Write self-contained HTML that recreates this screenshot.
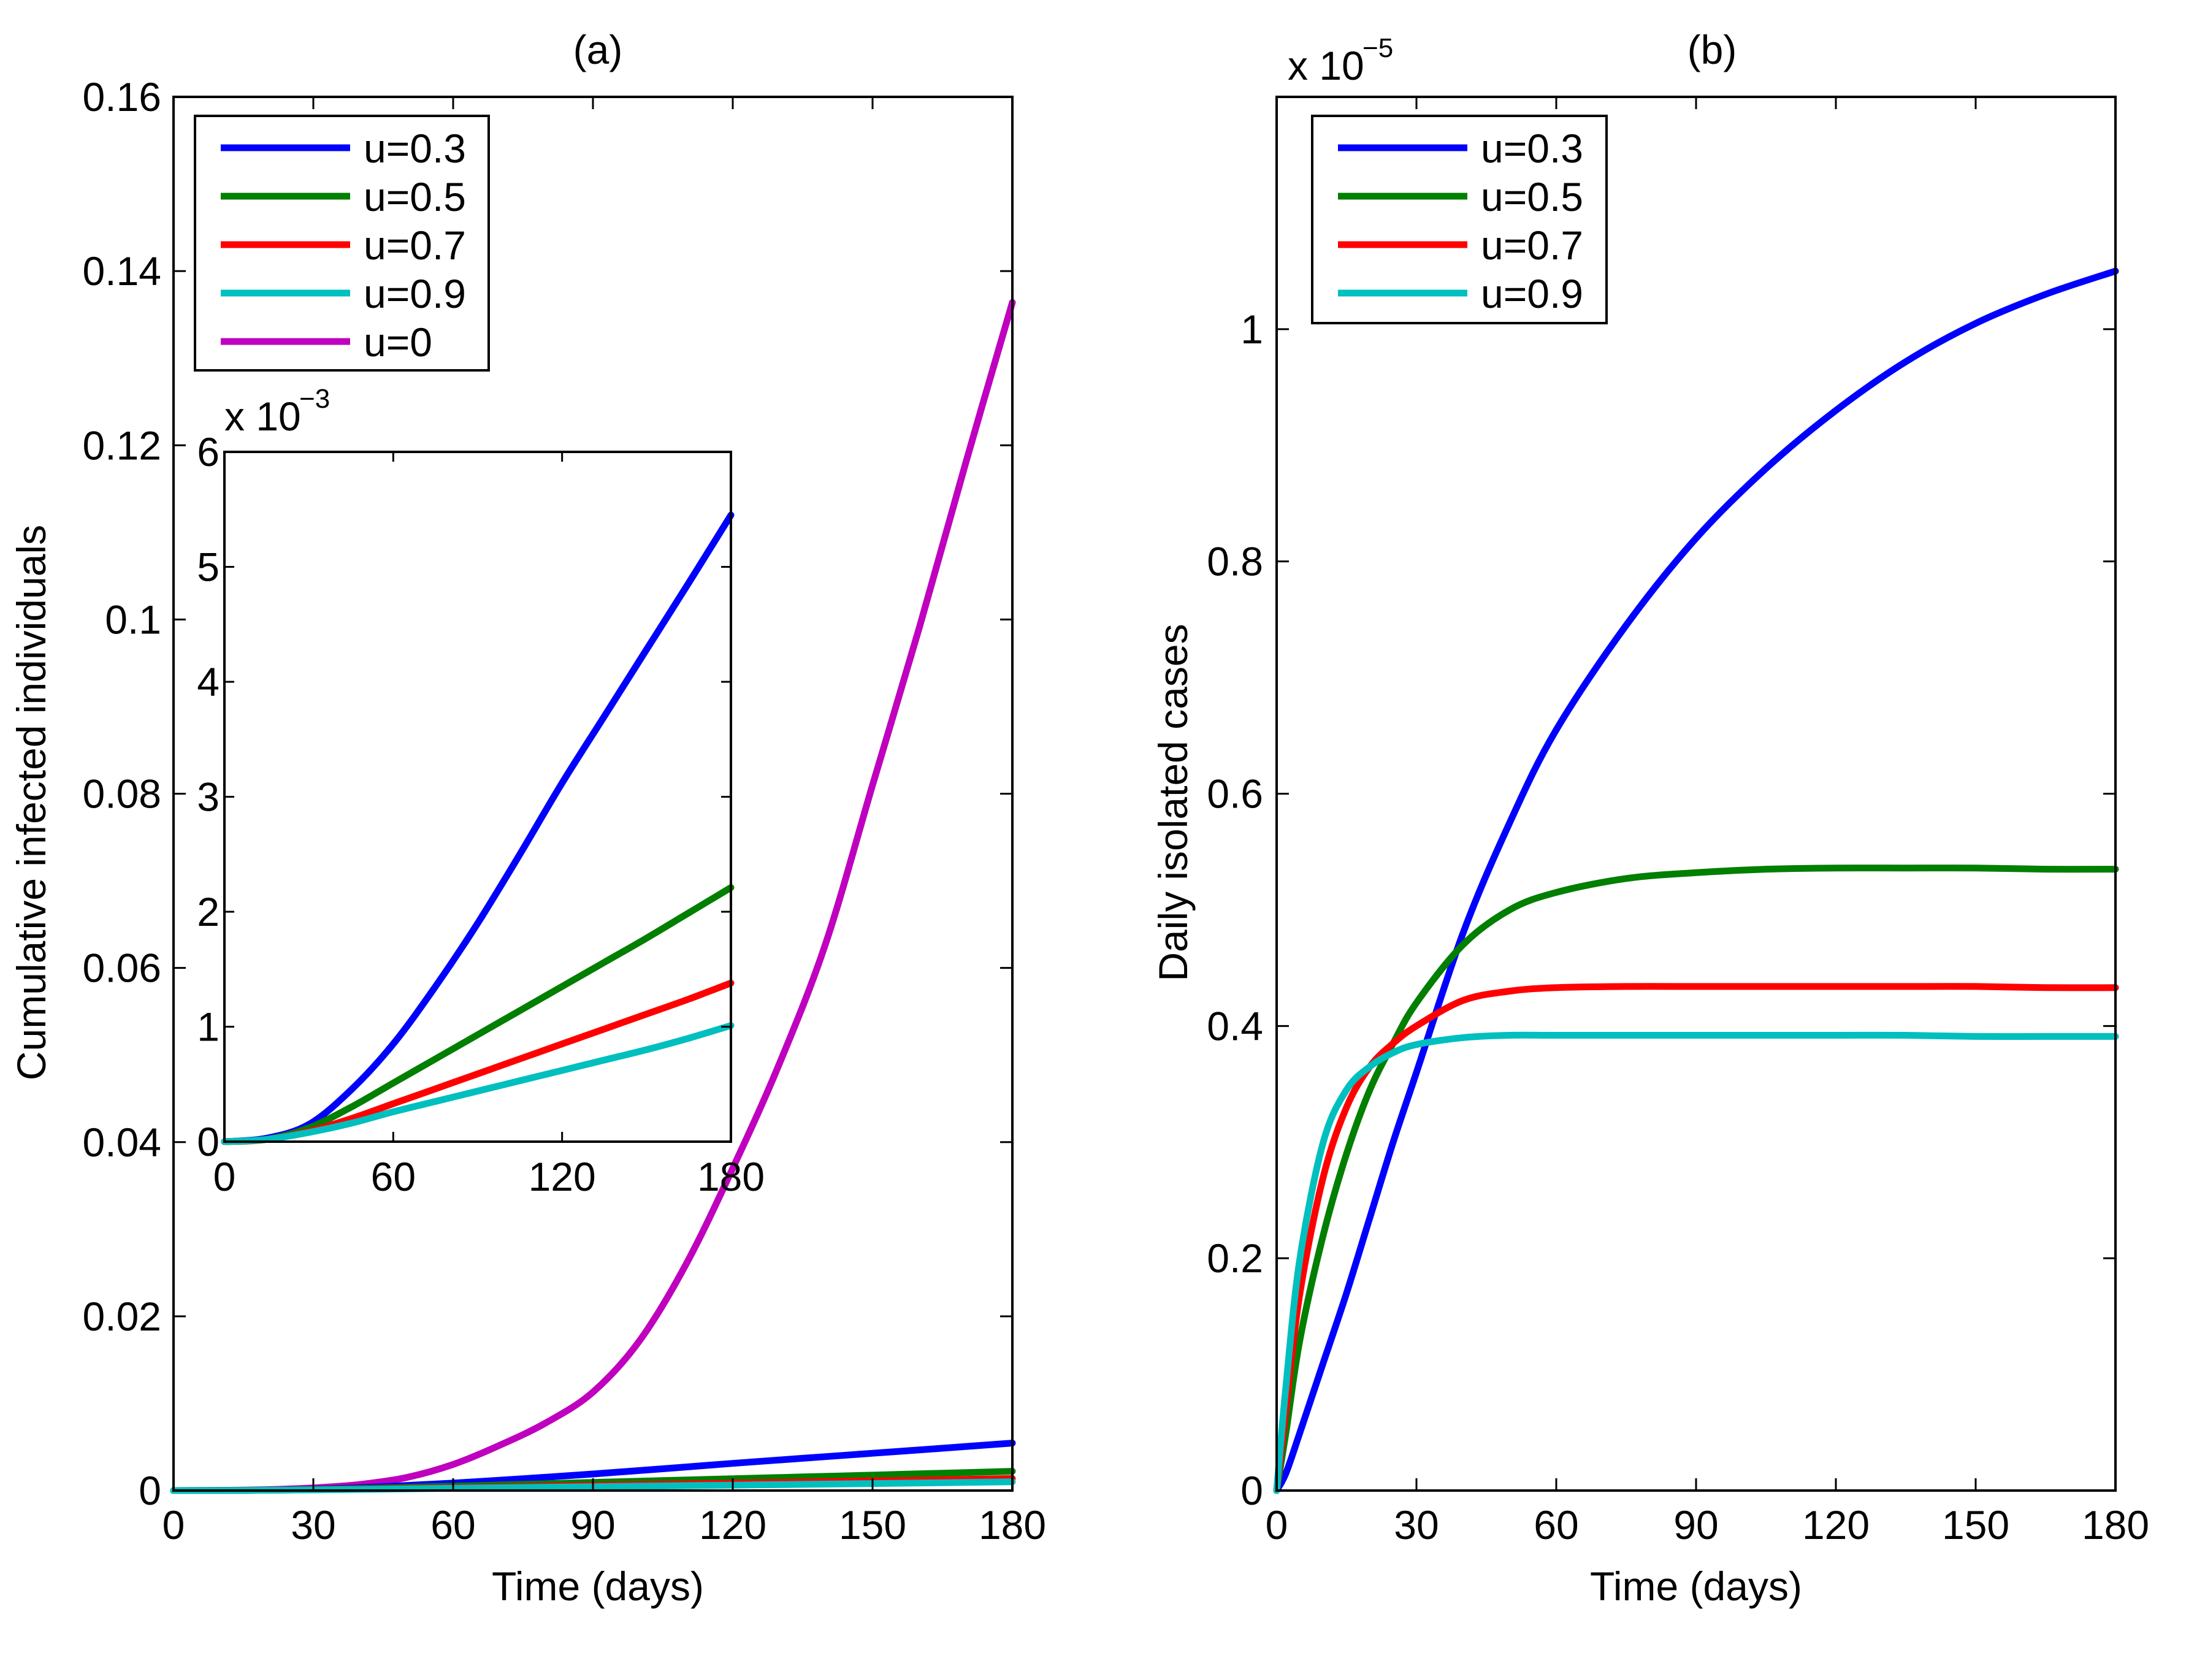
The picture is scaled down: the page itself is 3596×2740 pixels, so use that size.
<!DOCTYPE html>
<html><head><meta charset="utf-8"><style>
html,body{margin:0;padding:0;background:#fff}
svg{display:block;font-family:"Liberation Sans",Arial,sans-serif}
</style></head><body>
<svg id="fig" width="3596" height="2740" viewBox="0 0 3596 2740" xmlns="http://www.w3.org/2000/svg">
<rect width="3596" height="2740" fill="#fff"/>
</svg>
<script>
// ---- data: panel (a) ----
const tU0 = [0,10,20,30,40,50,60,70,80,90,100,110,120,130,140,150,160,170,180];
const cumU0 = [0,0.00002,0.0001,0.0003,0.0007,0.0015,0.003,0.0052,0.0078,0.0113,0.0172,0.026,0.037,0.049,0.0629,0.081,0.099,0.118,0.1364];
const tA = [0,15,30,45,60,75,90,105,120,135,150,165,180];
const cumU03 = [0,0.03,0.15,0.45,0.85,1.35,1.9,2.5,3.12,3.7,4.28,4.86,5.45];   // x1e-3
const cumU05 = [0,0.02,0.12,0.3,0.51,0.72,0.93,1.14,1.35,1.56,1.77,1.99,2.21];
const cumU07 = [0,0.02,0.09,0.2,0.33,0.46,0.59,0.72,0.85,0.98,1.11,1.24,1.38];
const cumU09 = [0,0.02,0.08,0.16,0.26,0.35,0.44,0.53,0.62,0.71,0.8,0.9,1.01];
const aYTicks = [0,0.02,0.04,0.06,0.08,0.1,0.12,0.14,0.16];
const aYLabels = ["0","0.02","0.04","0.06","0.08","0.1","0.12","0.14","0.16"];
const xTicks = [0,30,60,90,120,150,180];
const insetYTicks = [0,1,2,3,4,5,6];
const insetXTicks = [0,60,120,180];
// ---- data: panel (b) ----
const tB = [0,2,5,10,15,20,25,30,40,50,60,75,90,105,120,135,150,165,180];
const isoU03 = [0,0.015,0.05,0.11,0.17,0.235,0.30,0.36,0.48,0.575,0.655,0.745,0.82,0.88,0.93,0.972,1.005,1.03,1.05];
const isoU05 = [0,0.05,0.13,0.22,0.29,0.345,0.385,0.42,0.47,0.50,0.515,0.527,0.532,0.535,0.536,0.536,0.536,0.535,0.535];
const isoU07 = [0,0.07,0.17,0.27,0.33,0.365,0.385,0.40,0.422,0.43,0.433,0.434,0.434,0.434,0.434,0.434,0.434,0.433,0.433];
const isoU09 = [0,0.09,0.2,0.3,0.345,0.365,0.377,0.384,0.39,0.392,0.392,0.392,0.392,0.392,0.392,0.392,0.391,0.391,0.391];
const bYTicks = [0,0.2,0.4,0.6,0.8,1];
const bYLabels = ["0","0.2","0.4","0.6","0.8","1"];

const NS="http://www.w3.org/2000/svg";
const svg=document.getElementById('fig');
function mk(tag,attrs,parent){const e=document.createElementNS(NS,tag);for(const k in attrs)e.setAttribute(k,attrs[k]);(parent||svg).appendChild(e);return e;}
function txt(s,x,y,size,anchor,parent){const e=mk('text',{x:x,y:y,'font-size':size,'text-anchor':anchor||'middle',fill:'#000'},parent);e.textContent=s;return e;}
function scale(d0,d1,r0,r1){return v=>r0+(v-d0)/(d1-d0)*(r1-r0);}

function axesBox(g,L,T,R,B,sw){mk('rect',{x:L,y:T,width:R-L,height:B-T,fill:'none',stroke:'#000','stroke-width':sw},g);}
function drawLine(g,xs,ys,X,Y,color,name){
  const P=xs.map((x,i)=>[X(x),Y(ys[i])]);
  let d='M'+P[0][0].toFixed(1)+','+P[0][1].toFixed(1);
  for(let i=0;i<P.length-1;i++){
    const p0=P[Math.max(0,i-1)],p1=P[i],p2=P[i+1],p3=P[Math.min(P.length-1,i+2)];
    const c1=[p1[0]+(p2[0]-p0[0])/6,p1[1]+(p2[1]-p0[1])/6];
    const c2=[p2[0]-(p3[0]-p1[0])/6,p2[1]-(p3[1]-p1[1])/6];
    d+='C'+c1[0].toFixed(1)+','+c1[1].toFixed(1)+' '+c2[0].toFixed(1)+','+c2[1].toFixed(1)+' '+p2[0].toFixed(1)+','+p2[1].toFixed(1);
  }
  const p=mk('path',{d:d,fill:'none',stroke:color,'stroke-width':11,'stroke-linejoin':'round','stroke-linecap':'round'},g);
  
  
}
const COL={b:'#0000ff',g:'#007f00',r:'#ff0000',c:'#00bfbf',m:'#bf00bf'};
const FS=66;

// ===== Panel (a) =====
const gA=mk('g',{});


const aL=283,aR=1651,aT=158,aB=2431;
const aX=scale(0,180,aL,aR), aY=scale(0,0.16,aB,aT);
drawLine(gA,tU0,cumU0,aX,aY,COL.m,'line-u0');
drawLine(gA,tA,cumU03.map(v=>v*1e-3),aX,aY,COL.b,'line-a-u03');
drawLine(gA,tA,cumU05.map(v=>v*1e-3),aX,aY,COL.g,'line-a-u05');
drawLine(gA,tA,cumU07.map(v=>v*1e-3),aX,aY,COL.r,'line-a-u07');
drawLine(gA,tA,cumU09.map(v=>v*1e-3),aX,aY,COL.c,'line-a-u09');
axesBox(gA,aL,aT,aR,aB,4);
aYTicks.forEach((v,i)=>{const y=aY(v);
  mk('line',{x1:aL,y1:y,x2:aL+20,y2:y,stroke:'#000','stroke-width':3},gA);
  mk('line',{x1:aR,y1:y,x2:aR-20,y2:y,stroke:'#000','stroke-width':3},gA);
  const t=txt(aYLabels[i],aL-20,y+23,FS,'end',gA);
  
  });
xTicks.forEach(v=>{const x=aX(v);
  mk('line',{x1:x,y1:aB,x2:x,y2:aB-20,stroke:'#000','stroke-width':3},gA);
  mk('line',{x1:x,y1:aT,x2:x,y2:aT+20,stroke:'#000','stroke-width':3},gA);
  const t=txt(String(v),x,2510,FS,'middle',gA);
  
  });
const aTitle=txt('(a)',975,104,FS,'middle',gA);


const aXT=txt('Time (days)',975,2610,FS,'middle',gA);


const aYT=txt('Cumulative infected individuals',0,0,FS,'middle',gA);
aYT.setAttribute('transform','translate(74,1309) rotate(-90)');



// inset
const gI=mk('g',{});


const iL=366,iR=1192,iT=737,iB=1862;
const iX=scale(0,180,iL,iR), iY=scale(0,6,iB,iT);
mk('rect',{x:iL,y:iT,width:iR-iL,height:iB-iT,fill:'#fff'},gI);
drawLine(gI,tA,cumU03,iX,iY,COL.b,'inset-line-u03');
drawLine(gI,tA,cumU05,iX,iY,COL.g,'inset-line-u05');
drawLine(gI,tA,cumU07,iX,iY,COL.r,'inset-line-u07');
drawLine(gI,tA,cumU09,iX,iY,COL.c,'inset-line-u09');
axesBox(gI,iL,iT,iR,iB,4);
insetYTicks.forEach(v=>{const y=iY(v);
  mk('line',{x1:iL,y1:y,x2:iL+16,y2:y,stroke:'#000','stroke-width':3},gI);
  mk('line',{x1:iR,y1:y,x2:iR-16,y2:y,stroke:'#000','stroke-width':3},gI);
  const t=txt(String(v),iL-8,y+23,FS,'end',gI);
  
  });
insetXTicks.forEach(v=>{const x=iX(v);
  mk('line',{x1:x,y1:iB,x2:x,y2:iB-16,stroke:'#000','stroke-width':3},gI);
  mk('line',{x1:x,y1:iT,x2:x,y2:iT+16,stroke:'#000','stroke-width':3},gI);
  const t=txt(String(v),x,1942,FS,'middle',gI);
  
  });
const im=txt('x 10',366,702,FS,'start',gI);


txt('\u22123',488,665,44,'start',gI);

// legends
function legend(g,L,T,R,B,items,name){
  const lg=mk('g',{},g);
  
  
  mk('rect',{x:L,y:T,width:R-L,height:B-T,fill:'#fff',stroke:'#000','stroke-width':4},lg);
  items.forEach((it,i)=>{const y=T+52+i*79;
    const ln=mk('line',{x1:L+42,y1:y,x2:L+253,y2:y,stroke:it[1],'stroke-width':11},lg);
    
    
    const t=txt(it[0],L+275,y+24,FS,'start',lg);
    
    });
}
legend(gA,318,189,797,604,[['u=0.3',COL.b],['u=0.5',COL.g],['u=0.7',COL.r],['u=0.9',COL.c],['u=0',COL.m]],'legend-a');

// ===== Panel (b) =====
const gB=mk('g',{});


const bL=2082,bR=3450,bT=158,bB=2431;
const bX=scale(0,180,bL,bR), bY=scale(0,1.2,bB,bT);
drawLine(gB,tB,isoU03,bX,bY,COL.b,'line-b-u03');
drawLine(gB,tB,isoU05,bX,bY,COL.g,'line-b-u05');
drawLine(gB,tB,isoU07,bX,bY,COL.r,'line-b-u07');
drawLine(gB,tB,isoU09,bX,bY,COL.c,'line-b-u09');
axesBox(gB,bL,bT,bR,bB,4);
bYTicks.forEach((v,i)=>{const y=bY(v);
  mk('line',{x1:bL,y1:y,x2:bL+20,y2:y,stroke:'#000','stroke-width':3},gB);
  mk('line',{x1:bR,y1:y,x2:bR-20,y2:y,stroke:'#000','stroke-width':3},gB);
  const t=txt(bYLabels[i],bL-22,y+23,FS,'end',gB);
  
  });
xTicks.forEach(v=>{const x=bX(v);
  mk('line',{x1:x,y1:bB,x2:x,y2:bB-20,stroke:'#000','stroke-width':3},gB);
  mk('line',{x1:x,y1:bT,x2:x,y2:bT+20,stroke:'#000','stroke-width':3},gB);
  const t=txt(String(v),x,2510,FS,'middle',gB);
  
  });
const bTitle=txt('(b)',2792,104,FS,'middle',gB);


const bXT=txt('Time (days)',2766,2610,FS,'middle',gB);


const bYT=txt('Daily isolated cases',0,0,FS,'middle',gB);
bYT.setAttribute('transform','translate(1936,1309) rotate(-90)');


const bm=txt('x 10',2100,130,FS,'start',gB);


txt('\u22125',2222,93,44,'start',gB);
legend(gB,2140,189,2620,527,[['u=0.3',COL.b],['u=0.5',COL.g],['u=0.7',COL.r],['u=0.9',COL.c]],'legend-b');
</script>
</body></html>
